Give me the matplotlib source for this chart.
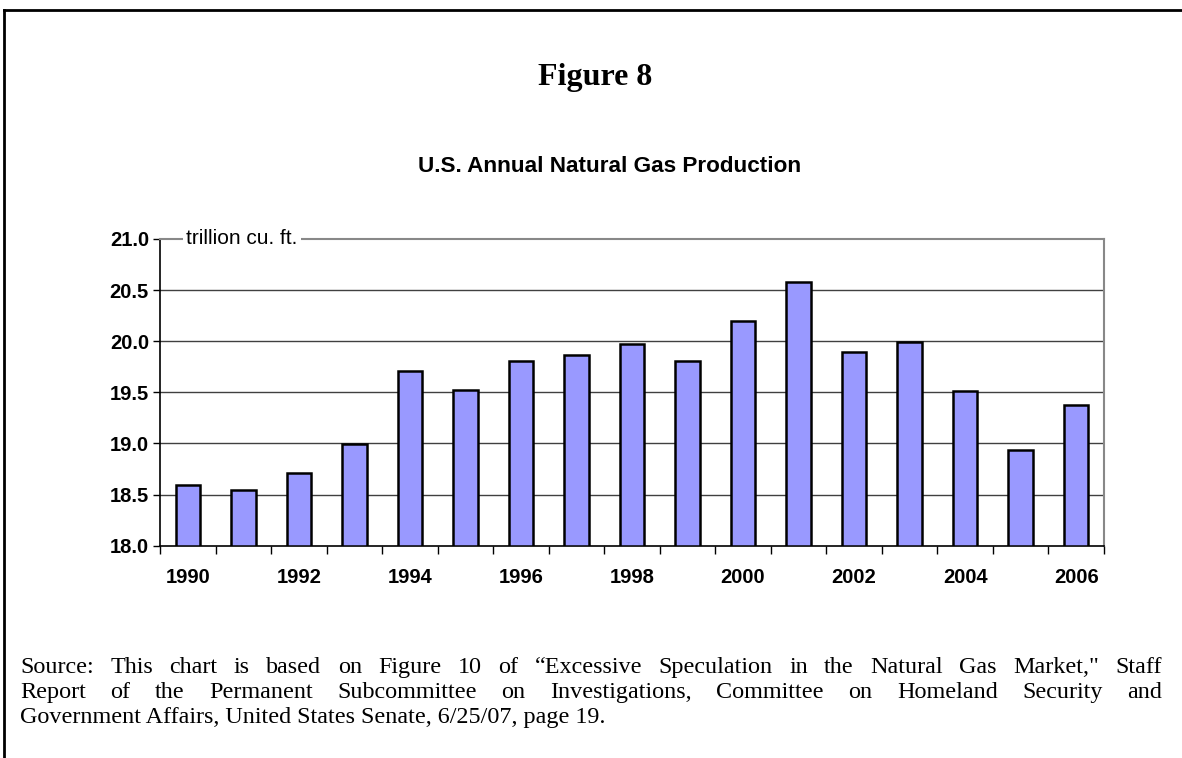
import matplotlib
matplotlib.use("Agg")
import matplotlib.pyplot as plt
from matplotlib.lines import Line2D
import numpy as np

# data (trillion cubic feet)
years = list(range(1990, 2007))
production = [18.59, 18.54, 18.71, 18.99, 19.71, 19.52, 19.81, 19.87, 19.97,
              19.81, 20.20, 20.58, 19.89, 19.99, 19.51, 18.94, 19.38]
y_ticks = [18.0, 18.5, 19.0, 19.5, 20.0, 20.5, 21.0]
year_labels = [str(y) for y in years[::2]]

fig_title = "Figure 8"
chart_title = "U.S. Annual Natural Gas Production"
unit_label = "trillion cu. ft."
source_lines = [
    "Source: This chart is based on Figure 10 of \u201cExcessive Speculation in the Natural Gas Market,\" Staff",
    "Report of the Permanent Subcommittee on Investigations, Committee on Homeland Security and",
    "Government Affairs, United States Senate, 6/25/07, page 19.",
]

W, H = 1182, 758
fig = plt.figure(figsize=(W / 100, H / 100), dpi=100)
fig.patch.set_facecolor("white")

sans = "Liberation Sans"
serif = "Liberation Serif"

# axes placed in pixel terms
left, right, top, bottom = 160, 1104, 239, 545.7
ax = fig.add_axes([left / W, 1 - bottom / H, (right - left) / W, (bottom - top) / H])

x = np.arange(len(years))
base = y_ticks[0]
heights = [v - base for v in production]
ax.bar(x, heights, bottom=base, width=0.44, color="#9999ff",
       edgecolor="black", linewidth=1.8, zorder=3)

ax.set_xlim(-0.5, len(years) - 0.5)
ax.set_ylim(y_ticks[0], y_ticks[-1])

# inner gridlines
for g in y_ticks[1:-1]:
    ax.axhline(g, color="#404040", lw=1.0, zorder=1)

# spines
ax.spines["left"].set_color("black")
ax.spines["left"].set_linewidth(1.2)
ax.spines["bottom"].set_color("black")
ax.spines["bottom"].set_linewidth(1.2)
ax.spines["top"].set_color("#888888")
ax.spines["top"].set_linewidth(1.5)
ax.spines["right"].set_color("#888888")
ax.spines["right"].set_linewidth(1.5)

# y ticks
ax.set_yticks(y_ticks)
ax.set_yticklabels(["%.1f" % t for t in y_ticks], fontfamily=sans,
                   fontweight="bold", fontsize=14.5)
ax.tick_params(axis="y", direction="out", length=5, width=1, pad=3)

# x ticks: marks on category boundaries, labels on every other year
ax.set_xticks(np.arange(-0.5, len(years), 1.0))
ax.set_xticklabels([])
ax.tick_params(axis="x", which="major", direction="out", length=6, width=1)
ax.set_xticks(x[::2], minor=True)
ax.set_xticklabels(year_labels, minor=True, fontfamily=sans,
                   fontweight="bold", fontsize=14.5)
ax.tick_params(axis="x", which="minor", length=0, pad=16)

# unit label sitting on the top line
ax.text(0.028, 1.0, unit_label, transform=ax.transAxes, ha="left",
        va="center", fontfamily=sans, fontsize=15, zorder=6, clip_on=False,
        bbox=dict(facecolor="white", edgecolor="none", pad=2.5))

# titles
fig.text(595 / W, 1 - 77 / H, fig_title, ha="center", va="center",
         fontfamily=serif, fontweight="bold", fontsize=23)
fig.text(610 / W, 1 - 167 / H, chart_title, ha="center", va="center",
         fontfamily=sans, fontweight="bold", fontsize=16.2)

# outer frame (top and left edges)
fig.add_artist(Line2D([4 / W, 1], [1 - 10 / H, 1 - 10 / H], transform=fig.transFigure,
                      color="black", lw=2))
fig.add_artist(Line2D([4 / W, 4 / W], [1 - 10 / H, 0], transform=fig.transFigure,
                      color="black", lw=2))

# justified source note
renderer = fig.canvas.get_renderer()
x0, x1 = 20, 1162
line_y = [673, 698, 723]
src_size = 17.4
for i, line in enumerate(source_lines):
    yy = 1 - line_y[i] / H
    if i == len(source_lines) - 1:
        fig.text(x0 / W, yy, line, ha="left", va="baseline",
                 fontfamily=serif, fontsize=src_size)
        continue
    words = line.split(" ")
    texts = [fig.text(0, yy, w, ha="left", va="baseline", fontfamily=serif,
                      fontsize=src_size) for w in words]
    widths = [t.get_window_extent(renderer).width for t in texts]
    gap = (x1 - x0 - sum(widths)) / (len(words) - 1)
    pos = x0
    for t, w in zip(texts, widths):
        t.set_x(pos / W)
        pos += w + gap

fig.savefig("out.png", dpi=100, facecolor="white")
